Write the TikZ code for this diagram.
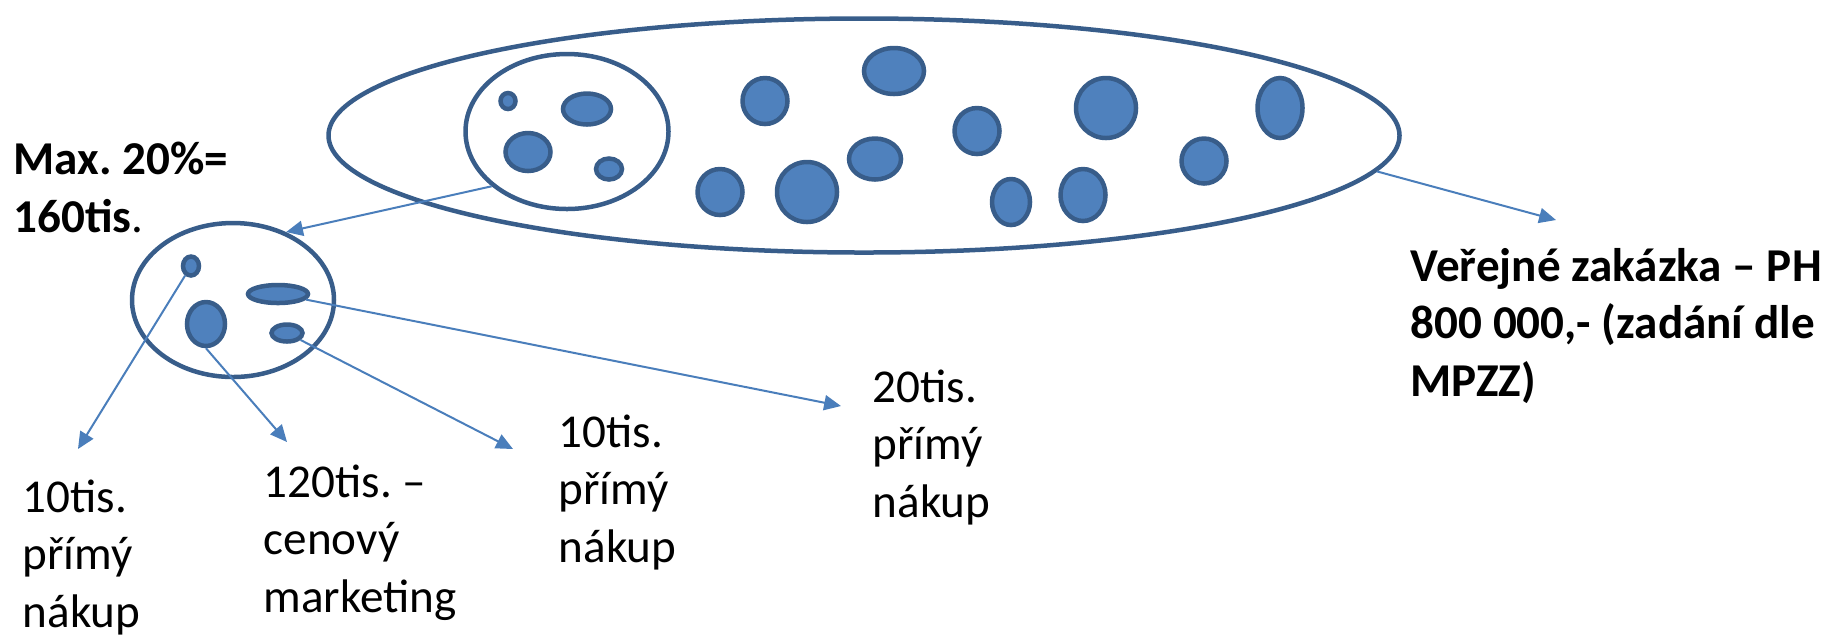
\documentclass[tikz,border=0pt]{standalone}
\usepackage{fontspec}
\setmainfont{Carlito}
\usetikzlibrary{shapes.geometric, arrows.meta}
\frenchspacing

\definecolor{blobfill}{HTML}{4F81BD}
\definecolor{blobline}{HTML}{385D8A}
\definecolor{arrline}{HTML}{4A7EBB}

\newlength{\px}
\setlength{\px}{0.01cm}

\tikzset{
  ring/.style={ellipse, draw=blobline, line width=4.5\px, inner sep=0pt},
  blob/.style={ring, fill=blobfill},
  lbl/.style={anchor=base west, inner sep=0pt, align=left,
    font=\fontsize{13.4}{16.3}\selectfont},
  lblb/.style={lbl, font=\fontsize{13.4}{16.3}\selectfont\bfseries},
  arr/.style={draw=arrline, line width=2\px,
    -{Triangle[length=4.8pt, width=4.3pt]}}
}

\begin{document}
\begin{tikzpicture}[x=0.01cm, y=-0.01cm]
  \useasboundingbox (0,0) rectangle (1831,635);
  % --- Whole contract and the part taken out of it ---
  \node[ring, minimum width=1071\px, minimum height=234\px] (big) at (864,135.5) {};
  \node[ring, minimum width=203\px, minimum height=155\px] (inner) at (567,131.5) {};
  \node[ring, minimum width=202\px, minimum height=154\px] (small) at (233,300) {};
  % --- Blobs inside the big ellipse ---
  \foreach \n/\x/\y/\w/\h in {i1/508/101/15/16, i2/587/109/48/31, i3/528/152/45/38,
      i4/609/169/26/21, oA/765/101/45/46, oB/894/71/60/46, oC/720/192/45/46,
      oD/807/192/60/60, oE/875/159/52/41, oF/977/131/45/46, oG/1011/202/38/46,
      oH/1083/195/45/52, oI/1106/108/60/60, oJ/1204/161/45/45, oK/1280/108/45/60} {
    \node[blob, minimum width=\w\px, minimum height=\h\px] (\n) at (\x,\y) {};
  }
  % --- Blobs inside the small ellipse ---
  \foreach \n/\x/\y/\w/\h in {s1/191/266/16/19, s2/206/324/38/44,
      s3/278/294/60/18, s4/287/333/31/17} {
    \node[blob, minimum width=\w\px, minimum height=\h\px] (\n) at (\x,\y) {};
  }
  % --- Labels (anchored at the last line) ---
  \node[lblb] (maxlbl) at (13,232) {Max. 20\%=\\160tis{\mdseries .}};
  \node[lblb] (vzlbl) at (1410,396) {Veřejné zakázka – PH\\800 000,- (zadání dle\\MPZZ)};
  \node[lbl] (t1) at (22,627) {10tis.\\přímý\\nákup};
  \node[lbl] (t2) at (263,612) {120tis. –\\cenový\\marketing};
  \node[lbl] (t3) at (558,562) {10tis.\\přímý\\nákup};
  \node[lbl] (t4) at (872,517) {20tis.\\přímý\\nákup};
  % --- Arrows ---
  \coordinate (tip1) at (78,449);
  \coordinate (tip2) at (287,442);
  \coordinate (tip3) at (513,449);
  \coordinate (tip4) at (841,406);
  \coordinate (tipvz) at (1556,220);
  \draw[arr] (inner.216) -- (small.52);
  \draw[arr] (big.-4) -- (tipvz);
  \draw[arr] (s1) -- (tip1);
  \draw[arr] (s2.south) -- (tip2);
  \draw[arr] (s4) -- (tip3);
  \draw[arr] (s3) -- (tip4);
\end{tikzpicture}
\end{document}
